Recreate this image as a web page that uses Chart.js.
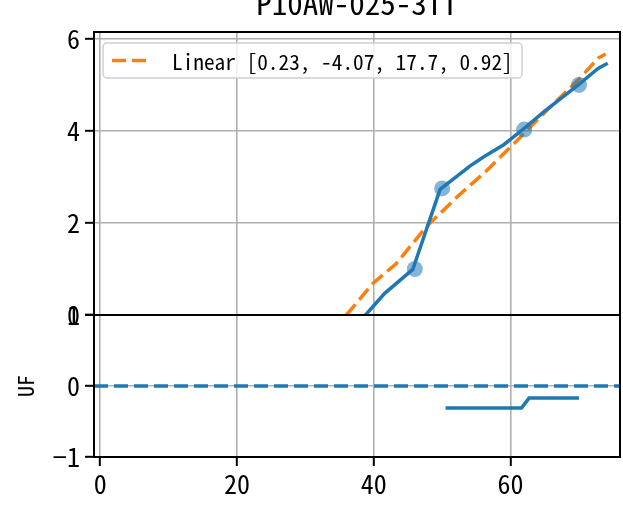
<!DOCTYPE html>
<html>
<head>
<meta charset="utf-8">
<script src="https://cdn.jsdelivr.net/npm/chart.js@4"></script>
<style>
  html, body { margin: 0; padding: 0; background: #fff; }
  #wrap { width: 623px; height: 518px; }
</style>
</head>
<body>
<div id="wrap"><canvas id="chart" width="623" height="518"></canvas></div>
<script>
const titleText = 'P10AW-025-3TT';
const fitLabel = 'Linear [0.23, -4.07, 17.7, 0.92]';
const yLabelBottom = 'UF';

// observed curve (top panel)
const obsX = [38.8, 41.6, 45.7, 49.7, 54.1, 56.1, 59.0, 61.7, 64.9, 69.9, 72.8, 74.2];
const obsY = [0, 0.47, 0.99, 2.73, 3.24, 3.44, 3.70, 4.02, 4.42, 5.0, 5.36, 5.47];

// measured points
const ptX = [46, 50, 62, 70];
const ptY = [1.0, 2.75, 4.03, 5.0];

// fitted curve
const fitX = [36.0, 39.9, 43.3, 47.7, 52.2, 56.6, 61.0, 65.4, 69.9, 72.8, 73.9];
const fitY = [0, 0.69, 1.12, 1.92, 2.57, 3.15, 3.80, 4.46, 5.11, 5.58, 5.67];

// bottom panel
const ufX = [50.5, 61.6, 62.7, 70.0];
const ufY = [-0.31, -0.31, -0.17, -0.17];
const zeroX = [-0.9, 76];
const zeroY = [0, 0];

const xTicks = [0, 20, 40, 60];
const yTopTicks = [0, 2, 4, 6];
const yBottomTicks = [-1, 0, 1];

const BLUE = '#1f77b4';
const ORANGE = '#ff7f0e';
const FONT = "'Noto Sans Mono CJK JP', 'Noto Sans CJK JP', sans-serif";

const pts = (xs, ys) => xs.map((x, i) => ({ x: x, y: ys[i] }));

const setTicks = (vals) => (scale) => { scale.ticks = vals.map(v => ({ value: v })); };
const minusSign = (v) => String(v).replace('-', '\u2212');

// title, legend and axes frame
const overlay = {
  id: 'overlay',
  afterDatasetsDraw(chart) {
    const ctx = chart.ctx;
    const a = chart.chartArea;
    ctx.save();
    ctx.strokeStyle = '#000';
    ctx.lineWidth = 2;
    ['y', 'y2'].forEach(id => {
      const s = chart.scales[id];
      ctx.strokeRect(a.left, s.top, a.right - a.left, s.bottom - s.top);
    });

    // legend box
    const ds = chart.data.datasets[2];
    const bx = a.left + 9, by = a.top + 11, bw = 419, bh = 35;
    ctx.fillStyle = 'rgba(255,255,255,0.8)';
    ctx.strokeStyle = '#d0d0d0';
    ctx.lineWidth = 1.5;
    ctx.beginPath();
    ctx.roundRect(bx, by, bw, bh, 4);
    ctx.fill();
    ctx.stroke();
    ctx.strokeStyle = ds.borderColor;
    ctx.lineWidth = ds.borderWidth;
    ctx.setLineDash(ds.borderDash);
    ctx.beginPath();
    ctx.moveTo(bx + 9, by + bh / 2);
    ctx.lineTo(bx + 49, by + bh / 2);
    ctx.stroke();
    ctx.setLineDash([]);
    ctx.fillStyle = '#000';
    ctx.font = '21.3px ' + FONT;
    ctx.textBaseline = 'middle';
    ctx.fillText(ds.label, bx + 69, by + bh / 2 + 1);

    // title
    ctx.font = '31px ' + FONT;
    ctx.textAlign = 'center';
    ctx.textBaseline = 'alphabetic';
    ctx.fillText(titleText, (a.left + a.right) / 2, 15);
    ctx.restore();
  }
};

const gridStyle = {
  color: '#b0b0b0',
  lineWidth: 1.6,
  tickColor: '#000',
  tickLength: 9,
  tickWidth: 2
};

const fitY_axis = (s) => { s.width = 94; s.paddingTop = 0; s.paddingBottom = 0; };

new Chart(document.getElementById('chart'), {
  type: 'line',
  data: {
    datasets: [
      {
        label: 'obs',
        data: pts(obsX, obsY),
        yAxisID: 'y',
        borderColor: BLUE,
        borderWidth: 3.5,
        pointRadius: 0,
        tension: 0
      },
      {
        type: 'scatter',
        label: 'points',
        data: pts(ptX, ptY),
        yAxisID: 'y',
        backgroundColor: 'rgba(31,119,180,0.55)',
        borderWidth: 0,
        pointRadius: 8
      },
      {
        label: fitLabel,
        data: pts(fitX, fitY),
        yAxisID: 'y',
        borderColor: ORANGE,
        borderWidth: 3.5,
        borderDash: [14, 6],
        pointRadius: 0,
        tension: 0
      },
      {
        label: 'zero',
        data: pts(zeroX, zeroY),
        yAxisID: 'y2',
        borderColor: BLUE,
        borderWidth: 3.5,
        borderDash: [14, 6],
        pointRadius: 0
      },
      {
        label: 'uf',
        data: pts(ufX, ufY),
        yAxisID: 'y2',
        borderColor: BLUE,
        borderWidth: 3.5,
        pointRadius: 0,
        tension: 0
      }
    ]
  },
  options: {
    responsive: false,
    animation: false,
    layout: { autoPadding: false, padding: { top: 32, right: 3, left: 0, bottom: 0 } },
    plugins: {
      legend: { display: false },
      title: { display: false },
      tooltip: { enabled: false }
    },
    scales: {
      x: {
        type: 'linear',
        min: -0.9,
        max: 76,
        afterBuildTicks: setTicks(xTicks),
        afterFit: (s) => { s.height = 61; s.paddingLeft = 0; s.paddingRight = 0; },
        grid: gridStyle,
        border: { display: false },
        ticks: { color: '#000', font: { family: FONT, size: 26 }, padding: 3, maxRotation: 0 }
      },
      y2: {
        type: 'linear',
        position: 'left',
        stack: 'panels',
        stackWeight: 142,
        min: -1,
        max: 1,
        afterBuildTicks: setTicks(yBottomTicks),
        afterFit: fitY_axis,
        grid: gridStyle,
        border: { display: false },
        title: { display: true, text: yLabelBottom, color: '#000', font: { family: FONT, size: 22 }, padding: { top: 12, bottom: 0 } },
        ticks: { color: '#000', font: { family: FONT, size: 26 }, padding: 5, callback: minusSign }
      },
      y: {
        type: 'linear',
        position: 'left',
        stack: 'panels',
        stackWeight: 283,
        min: 0,
        max: 6.15,
        afterBuildTicks: setTicks(yTopTicks),
        afterFit: fitY_axis,
        grid: gridStyle,
        border: { display: false },
        ticks: { color: '#000', font: { family: FONT, size: 26 }, padding: 5 }
      }
    }
  },
  plugins: [overlay]
});
</script>
</body>
</html>
